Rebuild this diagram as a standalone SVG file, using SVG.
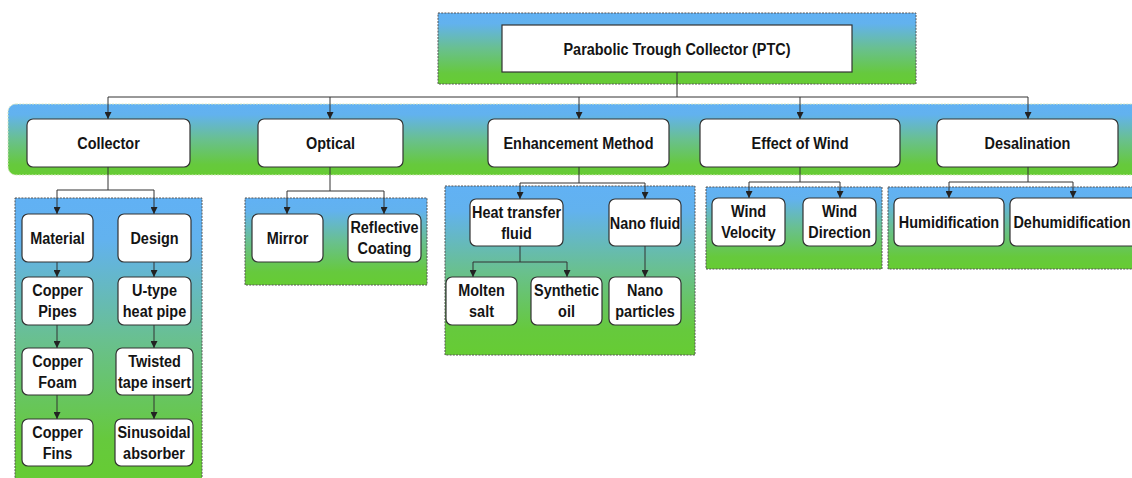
<svg xmlns="http://www.w3.org/2000/svg" width="1132" height="478" viewBox="0 0 1132 478">
<defs>
<linearGradient id="g" x1="0" y1="0" x2="0" y2="1">
<stop offset="0" stop-color="#61b1f4"/>
<stop offset="0.15" stop-color="#62b2ee"/>
<stop offset="0.5" stop-color="#69c08f"/>
<stop offset="0.85" stop-color="#66c93d"/>
<stop offset="1" stop-color="#66cc33"/>
</linearGradient>
<marker id="a" markerWidth="7" markerHeight="7" refX="7" refY="3.5" orient="auto" markerUnits="userSpaceOnUse">
<path d="M0,0 L7,3.5 L0,7 z" fill="#222"/>
</marker>
<style>
.c{fill:url(#g);stroke:#555;stroke-width:1;stroke-dasharray:2 1.2}
.band{fill:url(#g);stroke:#d8e8c0;stroke-width:1;stroke-dasharray:2 1.2}
.b{fill:#fff;stroke:#333;stroke-width:1.2}
.t{font-family:"Liberation Sans",Arial,sans-serif;font-weight:bold;font-size:17px;fill:#141414;text-anchor:middle}
.l{fill:none;stroke:#333;stroke-width:1}
.ar{marker-end:url(#a)}
</style>
</defs>

<rect class="c" x="438" y="13" width="478" height="71"/>
<rect class="band" x="8" y="104" width="1140" height="71" rx="8"/>
<rect class="c" x="15" y="198" width="187" height="284"/>
<rect class="c" x="245" y="198" width="182" height="87"/>
<rect class="c" x="445" y="186" width="250" height="169"/>
<rect class="c" x="706" y="187" width="176" height="82"/>
<rect class="c" x="888" y="187" width="260" height="82"/>

<g id="connectors">
<path class="l" d="M677,72 V97 M108,97 H1028"/>
<path class="l ar" d="M108,97 V119"/>
<path class="l ar" d="M330,97 V119"/>
<path class="l ar" d="M579,97 V119"/>
<path class="l ar" d="M800,97 V119"/>
<path class="l ar" d="M1028,97 V119"/>

<path class="l" d="M108,167 V190 M57,190 H154"/>
<path class="l ar" d="M57,190 V214"/>
<path class="l ar" d="M154,190 V214"/>
<path class="l ar" d="M57,262 V277"/>
<path class="l ar" d="M154,262 V277"/>
<path class="l ar" d="M57,325 V348"/>
<path class="l ar" d="M154,325 V348"/>
<path class="l ar" d="M57,395 V419"/>
<path class="l ar" d="M154,395 V419"/>

<path class="l" d="M330,167 V191 M287,191 H384"/>
<path class="l ar" d="M287,191 V214"/>
<path class="l ar" d="M384,191 V214"/>

<path class="l" d="M579,167 V183 M520,183 H645"/>
<path class="l ar" d="M520,183 V199"/>
<path class="l ar" d="M645,183 V199"/>
<path class="l" d="M520,246 V262 M473,262 H567"/>
<path class="l ar" d="M473,262 V277"/>
<path class="l ar" d="M567,262 V277"/>
<path class="l ar" d="M645,246 V277"/>

<path class="l" d="M800,167 V182 M749,182 H840"/>
<path class="l ar" d="M749,182 V198"/>
<path class="l ar" d="M840,182 V198"/>

<path class="l" d="M1028,167 V182 M949,182 H1073"/>
<path class="l ar" d="M949,182 V198"/>
<path class="l ar" d="M1073,182 V198"/>
</g>

<g id="ptc"><rect class="b" x="502" y="25" width="350" height="47"/><text class="t" transform="translate(677,54.5) scale(0.85,1)">Parabolic Trough Collector (PTC)</text></g>

<g id="collector"><rect class="b" x="27" y="119" width="163" height="48" rx="6"/><text class="t" transform="translate(108.5,149) scale(0.85,1)">Collector</text></g>
<g id="optical"><rect class="b" x="258" y="119" width="145" height="48" rx="6"/><text class="t" transform="translate(330.5,149) scale(0.85,1)">Optical</text></g>
<g id="enhancement"><rect class="b" x="488" y="119" width="181" height="48" rx="6"/><text class="t" transform="translate(578.5,149) scale(0.85,1)">Enhancement Method</text></g>
<g id="wind"><rect class="b" x="700" y="119" width="200" height="48" rx="6"/><text class="t" transform="translate(800,149) scale(0.85,1)">Effect of Wind</text></g>
<g id="desalination"><rect class="b" x="937" y="119" width="181" height="48" rx="6"/><text class="t" transform="translate(1027.5,149) scale(0.85,1)">Desalination</text></g>

<g id="material"><rect class="b" x="22" y="214" width="71" height="48" rx="6"/><text class="t" transform="translate(57.5,244) scale(0.85,1)">Material</text></g>
<g id="design"><rect class="b" x="118" y="214" width="73" height="48" rx="6"/><text class="t" transform="translate(154.5,244) scale(0.85,1)">Design</text></g>
<g id="copper-pipes"><rect class="b" x="22" y="277" width="71" height="48" rx="6"/><text class="t" transform="translate(57.5,296) scale(0.85,1)"><tspan x="0">Copper</tspan><tspan x="0" dy="21.5">Pipes</tspan></text></g>
<g id="u-type"><rect class="b" x="118" y="277" width="73" height="48" rx="6"/><text class="t" transform="translate(154.5,296) scale(0.85,1)"><tspan x="0">U-type</tspan><tspan x="0" dy="21.5">heat pipe</tspan></text></g>
<g id="copper-foam"><rect class="b" x="22" y="348" width="71" height="47" rx="6"/><text class="t" transform="translate(57.5,367) scale(0.85,1)"><tspan x="0">Copper</tspan><tspan x="0" dy="21.5">Foam</tspan></text></g>
<g id="twisted"><rect class="b" x="116" y="348" width="77" height="47" rx="6"/><text class="t" transform="translate(154.5,367) scale(0.85,1)"><tspan x="0">Twisted</tspan><tspan x="0" dy="21.5">tape insert</tspan></text></g>
<g id="copper-fins"><rect class="b" x="22" y="419" width="71" height="47" rx="6"/><text class="t" transform="translate(57.5,438) scale(0.85,1)"><tspan x="0">Copper</tspan><tspan x="0" dy="21.5">Fins</tspan></text></g>
<g id="sinusoidal"><rect class="b" x="115" y="419" width="78" height="47" rx="6"/><text class="t" transform="translate(154,438) scale(0.85,1)"><tspan x="0">Sinusoidal</tspan><tspan x="0" dy="21.5">absorber</tspan></text></g>

<g id="mirror"><rect class="b" x="252" y="214" width="71" height="48" rx="6"/><text class="t" transform="translate(287.5,244) scale(0.85,1)">Mirror</text></g>
<g id="reflective"><rect class="b" x="348" y="214" width="73" height="48" rx="6"/><text class="t" transform="translate(384.5,233) scale(0.85,1)"><tspan x="0">Reflective</tspan><tspan x="0" dy="21.5">Coating</tspan></text></g>

<g id="htf"><rect class="b" x="470" y="199" width="93" height="47" rx="6"/><text class="t" transform="translate(516.5,218) scale(0.85,1)"><tspan x="0">Heat transfer</tspan><tspan x="0" dy="21.5">fluid</tspan></text></g>
<g id="nano-fluid"><rect class="b" x="609" y="199" width="72" height="47" rx="6"/><text class="t" transform="translate(645,228.5) scale(0.85,1)">Nano fluid</text></g>
<g id="molten"><rect class="b" x="446" y="277" width="71" height="48" rx="6"/><text class="t" transform="translate(481.5,296) scale(0.85,1)"><tspan x="0">Molten</tspan><tspan x="0" dy="21.5">salt</tspan></text></g>
<g id="synthetic"><rect class="b" x="531" y="277" width="71" height="48" rx="6"/><text class="t" transform="translate(566.5,296) scale(0.85,1)"><tspan x="0">Synthetic</tspan><tspan x="0" dy="21.5">oil</tspan></text></g>
<g id="nano-particles"><rect class="b" x="609" y="277" width="72" height="48" rx="6"/><text class="t" transform="translate(645,296) scale(0.85,1)"><tspan x="0">Nano</tspan><tspan x="0" dy="21.5">particles</tspan></text></g>

<g id="wind-velocity"><rect class="b" x="712" y="198" width="73" height="48" rx="6"/><text class="t" transform="translate(748.5,217) scale(0.85,1)"><tspan x="0">Wind</tspan><tspan x="0" dy="21.5">Velocity</tspan></text></g>
<g id="wind-direction"><rect class="b" x="803" y="198" width="73" height="48" rx="6"/><text class="t" transform="translate(839.5,217) scale(0.85,1)"><tspan x="0">Wind</tspan><tspan x="0" dy="21.5">Direction</tspan></text></g>

<g id="humidification"><rect class="b" x="894" y="198" width="110" height="48" rx="6"/><text class="t" transform="translate(949,228) scale(0.85,1)">Humidification</text></g>
<g id="dehumidification"><rect class="b" x="1010" y="198" width="130" height="48" rx="6"/><text class="t" transform="translate(1072,228) scale(0.85,1)">Dehumidification</text></g>
</svg>
